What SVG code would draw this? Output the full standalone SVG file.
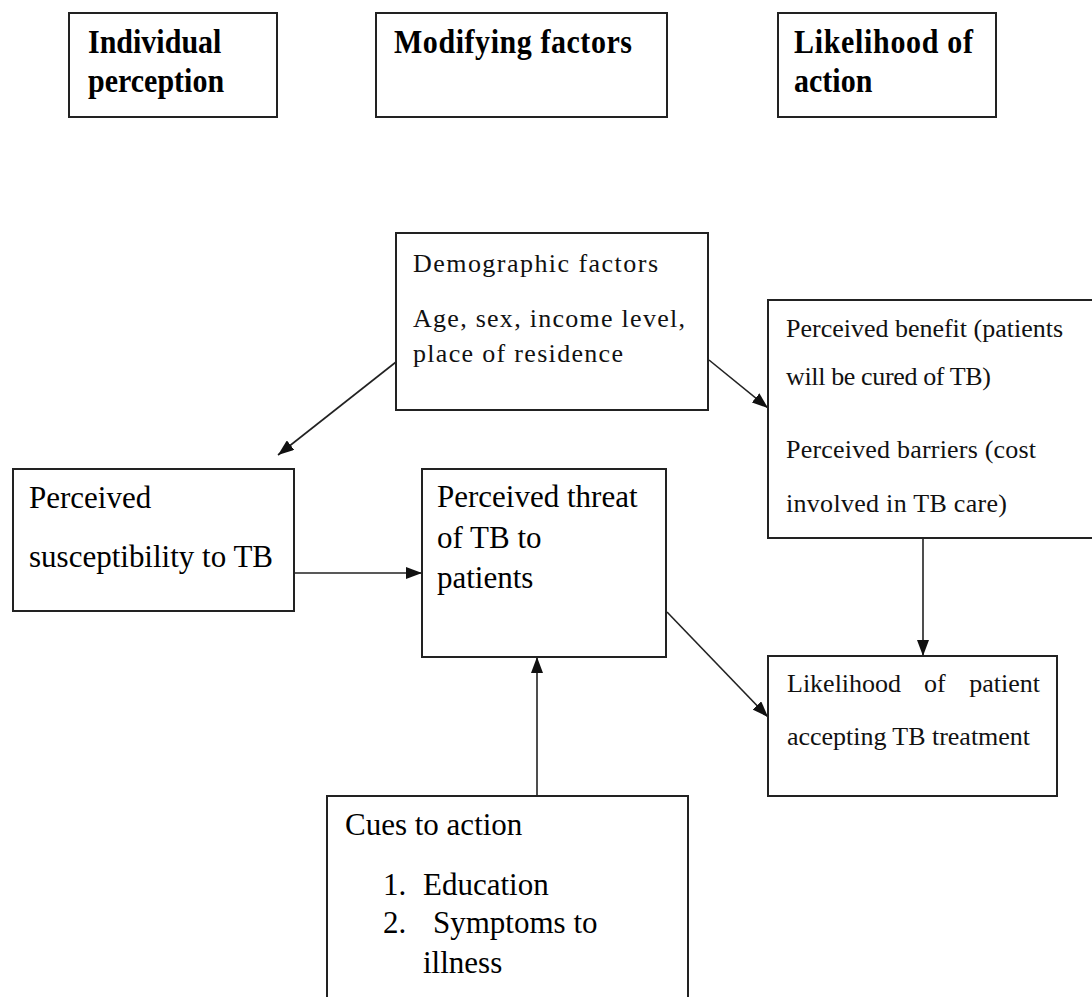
<svg xmlns="http://www.w3.org/2000/svg" width="1092" height="997" viewBox="0 0 1092 997">
<style>
.box{fill:#fff;stroke:#222;stroke-width:2}
.hd{font-family:"Liberation Serif","Times New Roman",serif;font-weight:bold;font-size:30px;fill:#000}
.big{font-family:"Liberation Serif","Times New Roman",serif;font-size:31px;fill:#000}
.sm{font-family:"Liberation Serif","Times New Roman",serif;font-size:26px;fill:#111}
.con{stroke:#222;stroke-width:1.6;fill:none;marker-end:url(#ah)}
</style>
<defs>
<marker id="ah" markerUnits="userSpaceOnUse" markerWidth="17" markerHeight="12" refX="16" refY="6" orient="auto">
<path d="M0,0 L16,6 L0,12 z" fill="#111"/>
</marker>
</defs>
<rect width="1092" height="997" fill="#fff"/>

<g id="hdr-individual">
<rect class="box" x="69" y="13" width="208" height="104"/>
<text class="hd" transform="translate(88,53) scale(1,1.12)">Individual</text>
<text class="hd" transform="translate(88,92) scale(1,1.12)">perception</text>
</g>
<g id="hdr-modifying">
<rect class="box" x="376" y="13" width="291" height="104"/>
<text class="hd" transform="translate(394,53) scale(1,1.12)" textLength="238">Modifying factors</text>
</g>
<g id="hdr-likelihood">
<rect class="box" x="778" y="13" width="218" height="104"/>
<text class="hd" transform="translate(794,53) scale(1,1.12)" textLength="179">Likelihood of</text>
<text class="hd" transform="translate(794,92) scale(1,1.12)">action</text>
</g>

<g id="connectors">
<line class="con" x1="396" y1="362" x2="278" y2="455"/>
<line class="con" x1="709" y1="360" x2="768" y2="408"/>
<line class="con" x1="294" y1="573" x2="422" y2="573"/>
<line class="con" x1="667" y1="612" x2="768" y2="717"/>
<line class="con" x1="923" y1="538" x2="923" y2="656"/>
<line class="con" x1="537" y1="796" x2="537" y2="657"/>
</g>

<g id="demographic">
<rect class="box" x="396" y="233" width="312" height="177"/>
<text class="sm" x="413" y="272" textLength="245" lengthAdjust="spacing">Demographic  factors</text>
<text class="sm" x="413" y="327" textLength="272" lengthAdjust="spacing">Age,  sex, income level,</text>
<text class="sm" x="413" y="362" textLength="210" lengthAdjust="spacing">place of residence</text>
</g>

<g id="benefit-barriers">
<rect class="box" x="768" y="300" width="340" height="238"/>
<text class="sm" x="786" y="337" textLength="277" lengthAdjust="spacing">Perceived benefit  (patients</text>
<text class="sm" x="786" y="385" textLength="205" lengthAdjust="spacing">will  be cured of TB)</text>
<text class="sm" x="786" y="458" textLength="250" lengthAdjust="spacing">Perceived barriers (cost</text>
<text class="sm" x="786" y="512" textLength="221" lengthAdjust="spacing">involved  in TB care)</text>
</g>

<g id="susceptibility">
<rect class="box" x="13" y="469" width="281" height="142"/>
<text class="big" x="29" y="508">Perceived</text>
<text class="big" x="29" y="567" textLength="244" lengthAdjust="spacing">susceptibility to TB</text>
</g>

<g id="threat">
<rect class="box" x="422" y="469" width="244" height="188"/>
<text class="big" x="437" y="507">Perceived threat</text>
<text class="big" x="437" y="548">of TB to</text>
<text class="big" x="437" y="588">patients</text>
</g>

<g id="likelihood-patient">
<rect class="box" x="768" y="656" width="289" height="140"/>
<text class="sm" x="787" y="692">Likelihood</text>
<text class="sm" x="924" y="692">of</text>
<text class="sm" x="1040" y="692" text-anchor="end">patient</text>
<text class="sm" x="787" y="745" textLength="243" lengthAdjust="spacing">accepting  TB  treatment</text>
</g>

<g id="cues">
<rect class="box" x="327" y="796" width="361" height="220"/>
<text class="big" x="345" y="835">Cues to action</text>
<text class="big" x="383" y="895">1.</text>
<text class="big" x="423" y="895">Education</text>
<text class="big" x="383" y="933">2.</text>
<text class="big" x="433" y="933">Symptoms to</text>
<text class="big" x="423" y="973">illness</text>
</g>
</svg>
